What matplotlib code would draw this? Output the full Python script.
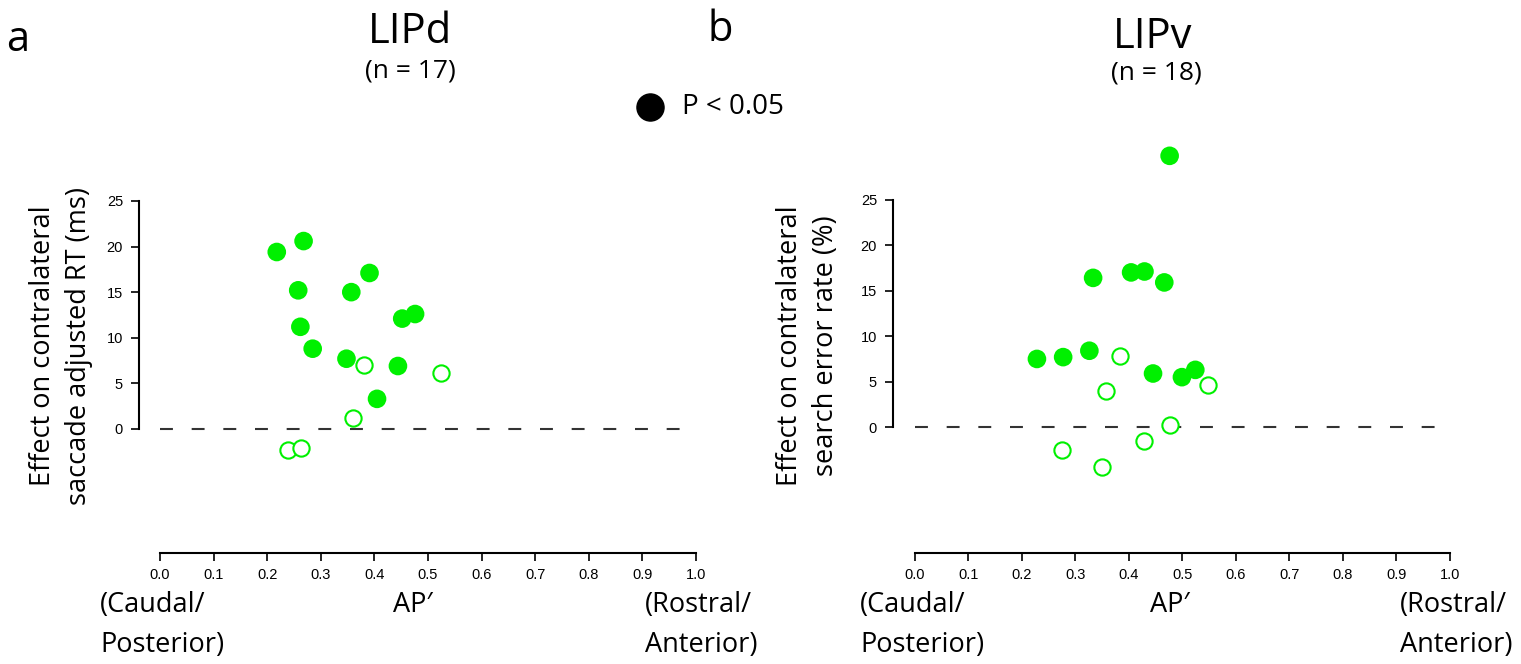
import matplotlib
matplotlib.use("Agg")
import matplotlib.pyplot as plt
import numpy as np

# LIPd (n = 17)
lipd_sig_x = [0.218, 0.268, 0.258, 0.357, 0.391, 0.262, 0.285, 0.348, 0.452, 0.476, 0.444, 0.405]
lipd_sig_y = [19.4, 20.6, 15.2, 15.0, 17.1, 11.2, 8.8, 7.7, 12.1, 12.6, 6.9, 3.3]
lipd_ns_x = [0.381, 0.524, 0.360, 0.239, 0.263]
lipd_ns_y = [7.0, 6.1, 1.2, -2.3, -2.1]

# LIPv (n = 18)
lipv_sig_x = [0.476, 0.333, 0.404, 0.429, 0.466, 0.228, 0.277, 0.326, 0.445, 0.499, 0.524]
lipv_sig_y = [29.8, 16.4, 17.0, 17.1, 15.9, 7.5, 7.7, 8.4, 5.9, 5.5, 6.3]
lipv_ns_x = [0.384, 0.357, 0.547, 0.476, 0.428, 0.274, 0.350]
lipv_ns_y = [7.8, 4.0, 4.6, 0.2, -1.5, -2.5, -4.4]

xticks = np.round(np.arange(0, 1.01, 0.1), 1)
yticks = [0, 5, 10, 15, 20, 25]

GREEN = "#00f000"
TXT = "Open Sans"
TICKF = "Liberation Sans"

W, H = 1521, 664
fig = plt.figure(figsize=(W / 100, H / 100), dpi=100)


def panel(rect, xlim, ylim, sx, sy, nx, ny, ylabel, ylab_x):
    ax = fig.add_axes(rect)
    ax.scatter(sx, sy, s=180, color=GREEN, edgecolors="none", zorder=3)
    ax.scatter(nx, ny, s=137, facecolors="white", edgecolors=GREEN,
               linewidths=1.5, zorder=3)
    ax.plot([0, 1], [0, 0], color="#333333", lw=1.5, dashes=(6.2, 9), zorder=1)
    ax.set_xlim(*xlim)
    ax.set_ylim(*ylim)
    for s in ["top", "right"]:
        ax.spines[s].set_visible(False)
    ax.spines["left"].set_bounds(0, 25)
    ax.spines["bottom"].set_bounds(0, 1)
    for s in ["left", "bottom"]:
        ax.spines[s].set_linewidth(1.5)
    ax.set_xticks(xticks)
    ax.set_xticklabels([f"{t:.1f}" for t in xticks], family=TICKF, fontsize=10.5)
    ax.set_yticks(yticks)
    ax.set_yticklabels([str(t) for t in yticks], family=TICKF, fontsize=10.5)
    ax.tick_params(direction="out", length=5.5, width=1.2)
    ax.tick_params(axis="y", pad=6)
    ax.tick_params(axis="x", pad=5)
    fig.text(ylab_x / W, 1 - 346 / H, ylabel, rotation=90, ha="center",
             va="center", family=TXT, fontsize=19.5, linespacing=1.4)
    return ax


ax1 = panel([139 / W, 1 - 553 / H, (696 - 139) / W, 406.8 / H],
            (-0.039, 1.0), (-13.6, 31), lipd_sig_x, lipd_sig_y,
            lipd_ns_x, lipd_ns_y,
            "Effect on contralateral\nsaccade adjusted RT (ms)", 61)
ax2 = panel([893 / W, 1 - 553.3 / H, (1450 - 893) / W, 408.4 / H],
            (-0.041, 1.0), (-13.84, 31), lipv_sig_x, lipv_sig_y,
            lipv_ns_x, lipv_ns_y,
            "Effect on contralateral\nsearch error rate (%)", 808)


def ftext(x, y, s, **kw):
    kw.setdefault("family", TXT)
    fig.text(x / W, 1 - y / H, s, **kw)


# panel letters and titles
ftext(18, 40, "a", fontsize=30, ha="center", va="center")
ftext(720, 30, "b", fontsize=30, ha="center", va="center")
ftext(410, 32, "LIPd", fontsize=30, ha="center", va="center")
ftext(410, 71, "(n = 17)", fontsize=19, ha="center", va="center")
ftext(1153, 37, "LIPv", fontsize=30, ha="center", va="center")
ftext(1156, 73, "(n = 18)", fontsize=19, ha="center", va="center")

# legend
fig.lines.append(plt.Line2D([650 / W], [1 - 107 / H], marker="o", markersize=19.5,
                            color="black", transform=fig.transFigure))
ftext(682, 107, "P < 0.05", fontsize=20, ha="left", va="center")

# x axis annotations
for x0, xc, xr in [(100, 413, 645), (860, 1170, 1400)]:
    ftext(x0, 605, "(Caudal/", fontsize=19.5, ha="left", va="center")
    ftext(x0, 645, "Posterior)", fontsize=19.5, ha="left", va="center")
    ftext(xc, 605, "AP\u2032", fontsize=19.5, ha="center", va="center")
    ftext(xr, 605, "(Rostral/", fontsize=19.5, ha="left", va="center")
    ftext(xr, 645, "Anterior)", fontsize=19.5, ha="left", va="center")

fig.savefig("out.png", dpi=100)
